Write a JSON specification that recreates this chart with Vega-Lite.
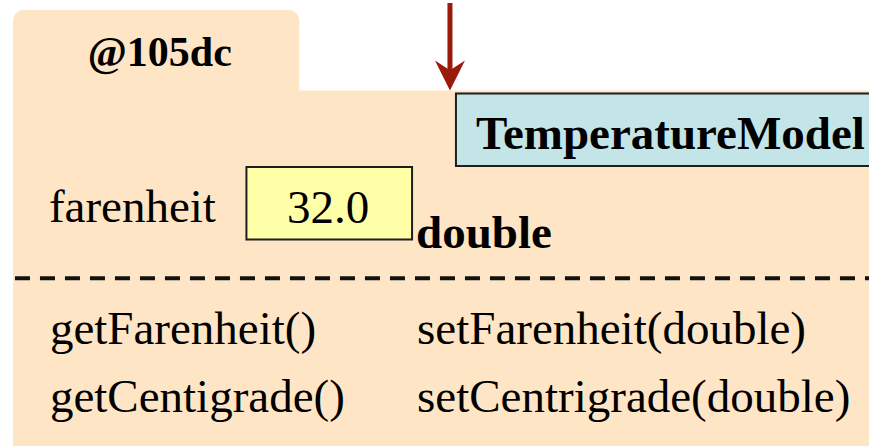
{
  "$schema": "https://vega.github.io/schema/vega-lite/v6.json",
  "width": 871,
  "height": 446,
  "autosize": {"type": "fit", "contains": "padding"},
  "padding": 0,
  "background": "white",
  "config": {"view": {"stroke": null}, "axis": {"grid": false}},
  "layer": [
    {
      "data": {"values": [{"part": "tab", "x": 13, "x2": 300, "y": 7, "y2": 110}]},
      "mark": {"type": "rect", "fill": "#FEE5C6", "cornerRadius": 11},
      "encoding": {
        "x": {"field": "x", "type": "quantitative", "scale": {"domain": [0, 871], "nice": false, "zero": false}, "axis": null},
        "x2": {"field": "x2"},
        "y": {"field": "y", "type": "quantitative", "scale": {"domain": [0, 446], "nice": false, "zero": false, "reverse": true}, "axis": null},
        "y2": {"field": "y2"}
      }
    },
    {
      "data": {"values": [{"part": "body", "x": 13, "x2": 871, "y": 88, "y2": 446}]},
      "mark": {"type": "rect", "fill": "#FEE5C6"},
      "encoding": {
        "x": {"field": "x", "type": "quantitative", "axis": null},
        "x2": {"field": "x2"},
        "y": {"field": "y", "type": "quantitative", "axis": null},
        "y2": {"field": "y2"}
      }
    },
    {
      "data": {"values": [{"part": "arrow shaft", "x": 451, "y": 0, "y2": 72}]},
      "mark": {"type": "rule", "stroke": "#9A1A0B", "strokeWidth": 5},
      "encoding": {
        "x": {"field": "x", "type": "quantitative"},
        "y": {"field": "y", "type": "quantitative"},
        "y2": {"field": "y2"}
      }
    },
    {
      "data": {"values": [{"part": "arrow head", "x": 451, "y": 73}]},
      "mark": {"type": "point", "filled": true, "fill": "#9A1A0B", "strokeWidth": 0, "opacity": 1, "size": 900, "shape": "M-1,-1 L0,1 L1,-1 L0,-0.35 Z"},
      "encoding": {
        "x": {"field": "x", "type": "quantitative"},
        "y": {"field": "y", "type": "quantitative"}
      }
    },
    {
      "data": {"values": [{"box": "class", "x": 457, "x2": 895, "y": 91, "y2": 164}]},
      "mark": {"type": "rect", "fill": "#C3E5E8", "stroke": "#1E1E1E", "strokeWidth": 2, "clip": true},
      "encoding": {
        "x": {"field": "x", "type": "quantitative"},
        "x2": {"field": "x2"},
        "y": {"field": "y", "type": "quantitative"},
        "y2": {"field": "y2"}
      }
    },
    {
      "data": {"values": [{"box": "value", "x": 247, "x2": 413, "y": 165, "y2": 238}]},
      "mark": {"type": "rect", "fill": "#FFFFA8", "stroke": "#1E1E1E", "strokeWidth": 2},
      "encoding": {
        "x": {"field": "x", "type": "quantitative"},
        "x2": {"field": "x2"},
        "y": {"field": "y", "type": "quantitative"},
        "y2": {"field": "y2"}
      }
    },
    {
      "data": {"values": [{"part": "divider", "x": 15, "x2": 871, "y": 277}]},
      "mark": {"type": "rule", "stroke": "#111111", "strokeWidth": 4, "strokeDash": [15, 10], "strokeCap": "butt"},
      "encoding": {
        "x": {"field": "x", "type": "quantitative"},
        "x2": {"field": "x2"},
        "y": {"field": "y", "type": "quantitative"}
      }
    },
    {
      "data": {"values": [{"label": "@105dc", "x": 88, "y": 63}]},
      "mark": {"type": "text", "font": "Liberation Serif", "fontWeight": "bold", "fontSize": 42, "align": "left", "baseline": "alphabetic", "color": "#000000"},
      "encoding": {
        "x": {"field": "x", "type": "quantitative"},
        "y": {"field": "y", "type": "quantitative"},
        "text": {"field": "label"}
      }
    },
    {
      "data": {"values": [
        {"label": "TemperatureModel", "x": 477, "y": 147},
        {"label": "double", "x": 417, "y": 247}
      ]},
      "mark": {"type": "text", "font": "Liberation Serif", "fontWeight": "bold", "fontSize": 47, "align": "left", "baseline": "alphabetic", "color": "#000000"},
      "encoding": {
        "x": {"field": "x", "type": "quantitative"},
        "y": {"field": "y", "type": "quantitative"},
        "text": {"field": "label"}
      }
    },
    {
      "data": {"values": [
        {"label": "farenheit", "x": 49, "y": 220},
        {"label": "getFarenheit()", "x": 50, "y": 343},
        {"label": "setFarenheit(double)", "x": 418, "y": 343},
        {"label": "getCentigrade()", "x": 50, "y": 412},
        {"label": "setCentrigrade(double)", "x": 418, "y": 412}
      ]},
      "mark": {"type": "text", "font": "Liberation Serif", "fontSize": 47, "align": "left", "baseline": "alphabetic", "color": "#000000"},
      "encoding": {
        "x": {"field": "x", "type": "quantitative"},
        "y": {"field": "y", "type": "quantitative"},
        "text": {"field": "label"}
      }
    },
    {
      "data": {"values": [{"label": "32.0", "x": 329, "y": 221}]},
      "mark": {"type": "text", "font": "Liberation Serif", "fontSize": 47, "align": "center", "baseline": "alphabetic", "color": "#000000"},
      "encoding": {
        "x": {"field": "x", "type": "quantitative"},
        "y": {"field": "y", "type": "quantitative"},
        "text": {"field": "label"}
      }
    }
  ]
}
